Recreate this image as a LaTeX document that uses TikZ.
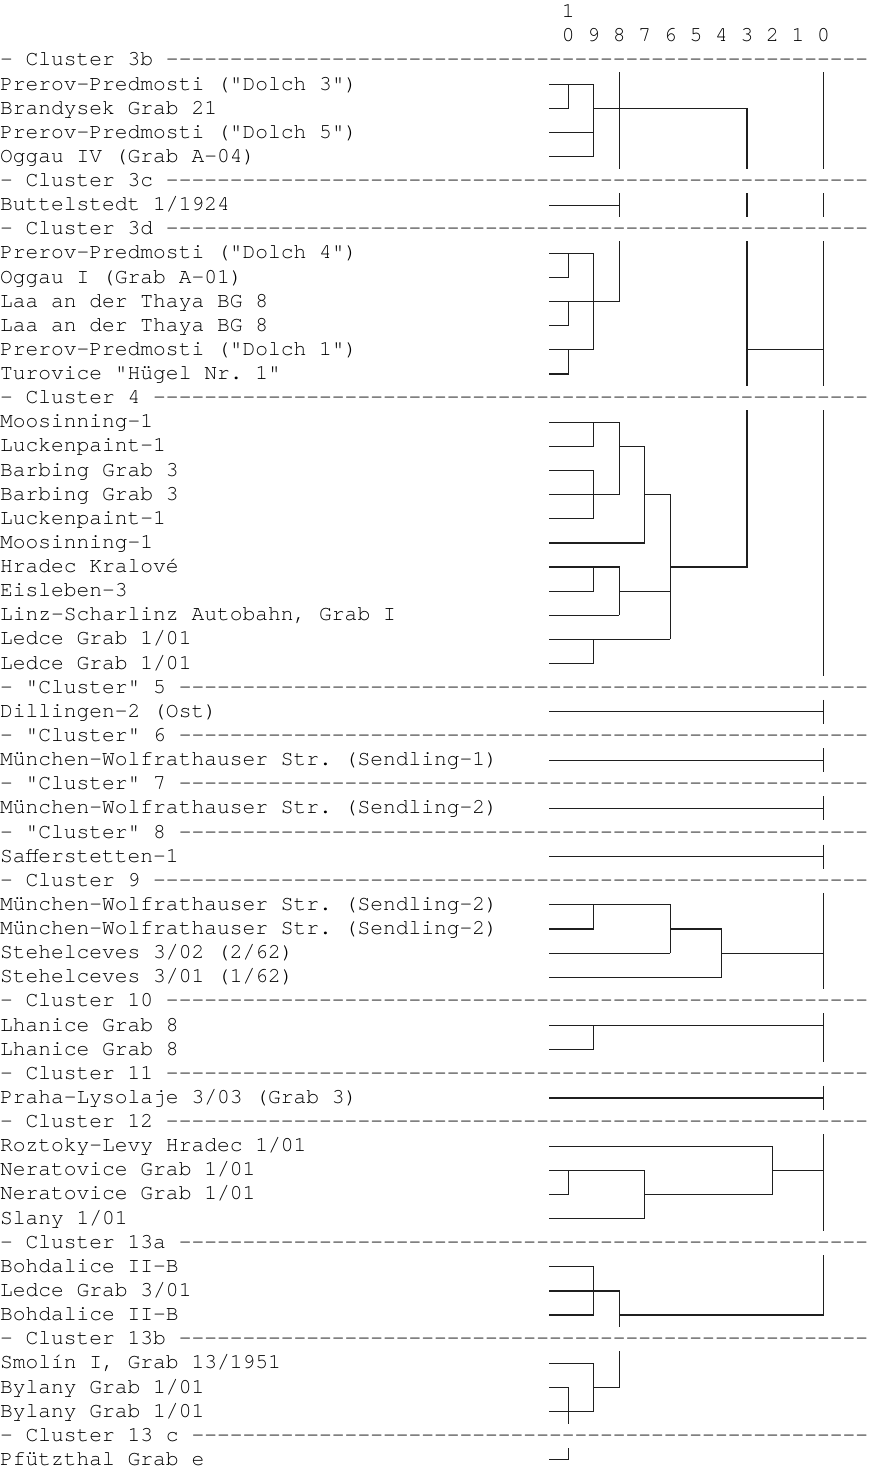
\documentclass[tikz,border=0pt]{standalone}
\usepackage{fontspec}
\setmonofont{TeX Gyre Cursor}
\newcommand\myhy[1]{\ifnum#1>0 -\kern0pt\expandafter\myhy\expandafter{\the\numexpr#1-1\relax}\fi}
\tikzset{
  lbl/.style={font=\ttfamily\fontsize{10.64pt}{12pt}\selectfont, anchor=base west, inner sep=0pt, outer sep=0pt, text=black},
  dl/.style={line width=0.6pt, draw=black!88, line join=miter}
}
\begin{document}
\frenchspacing
\begin{tikzpicture}[x=6.385pt, y=-12.065pt]
\useasboundingbox (0,0) rectangle (68.755,61.003);
% header
\node[lbl] (h1) at (44,0.73) {1};
\node[lbl] (h2) at (44,1.73) {0 9 8 7 6 5 4 3 2 1 0};
% labels
\node[lbl] (t3) at (0,2.73) {- Cluster 3b \myhy{55}};
\node[lbl] (t4) at (0,3.73) {Prerov-Predmosti ("Dolch 3")};
\node[lbl] (t5) at (0,4.73) {Brandysek Grab 21};
\node[lbl] (t6) at (0,5.73) {Prerov-Predmosti ("Dolch 5")};
\node[lbl] (t7) at (0,6.73) {Oggau IV (Grab A-04)};
\node[lbl] (t8) at (0,7.73) {- Cluster 3c \myhy{55}};
\node[lbl] (t9) at (0,8.73) {Buttelstedt 1/1924};
\node[lbl] (t10) at (0,9.73) {- Cluster 3d \myhy{55}};
\node[lbl] (t11) at (0,10.73) {Prerov-Predmosti ("Dolch 4")};
\node[lbl] (t12) at (0,11.73) {Oggau I (Grab A-01)};
\node[lbl] (t13) at (0,12.73) {Laa an der Thaya BG 8};
\node[lbl] (t14) at (0,13.73) {Laa an der Thaya BG 8};
\node[lbl] (t15) at (0,14.73) {Prerov-Predmosti ("Dolch 1")};
\node[lbl] (t16) at (0,15.73) {Turovice "Hügel Nr. 1"};
\node[lbl] (t17) at (0,16.73) {- Cluster 4 \myhy{56}};
\node[lbl] (t18) at (0,17.73) {Moosinning-1};
\node[lbl] (t19) at (0,18.73) {Luckenpaint-1};
\node[lbl] (t20) at (0,19.73) {Barbing Grab 3};
\node[lbl] (t21) at (0,20.73) {Barbing Grab 3};
\node[lbl] (t22) at (0,21.73) {Luckenpaint-1};
\node[lbl] (t23) at (0,22.73) {Moosinning-1};
\node[lbl] (t24) at (0,23.73) {Hradec Kralové};
\node[lbl] (t25) at (0,24.73) {Eisleben-3};
\node[lbl] (t26) at (0,25.73) {Linz-Scharlinz Autobahn, Grab I};
\node[lbl] (t27) at (0,26.73) {Ledce Grab 1/01};
\node[lbl] (t28) at (0,27.73) {Ledce Grab 1/01};
\node[lbl] (t29) at (0,28.73) {- "Cluster" 5 \myhy{54}};
\node[lbl] (t30) at (0,29.73) {Dillingen-2 (Ost)};
\node[lbl] (t31) at (0,30.73) {- "Cluster" 6 \myhy{54}};
\node[lbl] (t32) at (0,31.73) {München-Wolfrathauser Str. (Sendling-1)};
\node[lbl] (t33) at (0,32.73) {- "Cluster" 7 \myhy{54}};
\node[lbl] (t34) at (0,33.73) {München-Wolfrathauser Str. (Sendling-2)};
\node[lbl] (t35) at (0,34.73) {- "Cluster" 8 \myhy{54}};
\node[lbl] (t36) at (0,35.73) {Safferstetten-1};
\node[lbl] (t37) at (0,36.73) {- Cluster 9 \myhy{56}};
\node[lbl] (t38) at (0,37.73) {München-Wolfrathauser Str. (Sendling-2)};
\node[lbl] (t39) at (0,38.73) {München-Wolfrathauser Str. (Sendling-2)};
\node[lbl] (t40) at (0,39.73) {Stehelceves 3/02 (2/62)};
\node[lbl] (t41) at (0,40.73) {Stehelceves 3/01 (1/62)};
\node[lbl] (t42) at (0,41.73) {- Cluster 10 \myhy{55}};
\node[lbl] (t43) at (0,42.73) {Lhanice Grab 8};
\node[lbl] (t44) at (0,43.73) {Lhanice Grab 8};
\node[lbl] (t45) at (0,44.73) {- Cluster 11 \myhy{55}};
\node[lbl] (t46) at (0,45.73) {Praha-Lysolaje 3/03 (Grab 3)};
\node[lbl] (t47) at (0,46.73) {- Cluster 12 \myhy{55}};
\node[lbl] (t48) at (0,47.73) {Roztoky-Levy Hradec 1/01};
\node[lbl] (t49) at (0,48.73) {Neratovice Grab 1/01};
\node[lbl] (t50) at (0,49.73) {Neratovice Grab 1/01};
\node[lbl] (t51) at (0,50.73) {Slany 1/01};
\node[lbl] (t52) at (0,51.73) {- Cluster 13a \myhy{54}};
\node[lbl] (t53) at (0,52.73) {Bohdalice II-B};
\node[lbl] (t54) at (0,53.73) {Ledce Grab 3/01};
\node[lbl] (t55) at (0,54.73) {Bohdalice II-B};
\node[lbl] (t56) at (0,55.73) {- Cluster 13b \myhy{54}};
\node[lbl] (t57) at (0,56.73) {Smolín I, Grab 13/1951};
\node[lbl] (t58) at (0,57.73) {Bylany Grab 1/01};
\node[lbl] (t59) at (0,58.73) {Bylany Grab 1/01};
\node[lbl] (t60) at (0,59.73) {- Cluster 13 c \myhy{53}};
\node[lbl] (t61) at (0,60.73) {Pfützthal Grab e};
% ---------- dendrogram ----------
% Cluster 3b
\draw[dl] (43,3.5) -- (46.5,3.5) -- (46.5,6.5);
\draw[dl] (44.5,3.5) -- (44.5,4.5) -- (43,4.5);
\draw[dl] (46.5,4.5) -- (58.5,4.5) -- (58.5,7);
\draw[dl] (43,5.5) -- (46.5,5.5);
\draw[dl] (43,6.5) -- (46.5,6.5);
\draw[dl] (48.5,3) -- (48.5,7);
\draw[dl] (64.5,3) -- (64.5,7);
% Cluster 3c
\draw[dl] (43,8.5) -- (48.5,8.5);
\draw[dl] (48.5,8) -- (48.5,9);
\draw[dl] (58.5,8) -- (58.5,9);
\draw[dl] (64.5,8) -- (64.5,9);
% Cluster 3d
\draw[dl] (43,10.5) -- (46.5,10.5) -- (46.5,14.5);
\draw[dl] (44.5,10.5) -- (44.5,11.5) -- (43,11.5);
\draw[dl] (43,12.5) -- (48.5,12.5) -- (48.5,10);
\draw[dl] (44.5,12.5) -- (44.5,13.5) -- (43,13.5);
\draw[dl] (43,14.5) -- (46.5,14.5);
\draw[dl] (44.5,14.5) -- (44.5,15.5) -- (43,15.5);
\draw[dl] (58.5,10) -- (58.5,16);
\draw[dl] (64.5,10) -- (64.5,16);
\draw[dl] (58.5,14.5) -- (64.5,14.5);
% Cluster 4
\draw[dl] (43,17.5) -- (48.5,17.5) -- (48.5,20.5);
\draw[dl] (46.5,17.5) -- (46.5,18.5) -- (43,18.5);
\draw[dl] (48.5,18.5) -- (50.5,18.5) -- (50.5,22.5);
\draw[dl] (43,19.5) -- (46.5,19.5) -- (46.5,21.5);
\draw[dl] (43,20.5) -- (48.5,20.5);
\draw[dl] (50.5,20.5) -- (52.5,20.5) -- (52.5,26.5);
\draw[dl] (43,21.5) -- (46.5,21.5);
\draw[dl] (43,22.5) -- (50.5,22.5);
\draw[dl] (43,23.5) -- (48.5,23.5) -- (48.5,25.5);
\draw[dl] (46.5,23.5) -- (46.5,24.5) -- (43,24.5);
\draw[dl] (52.5,23.5) -- (58.5,23.5) -- (58.5,17);
\draw[dl] (48.5,24.5) -- (52.5,24.5);
\draw[dl] (43,25.5) -- (48.5,25.5);
\draw[dl] (43,26.5) -- (52.5,26.5);
\draw[dl] (46.5,26.5) -- (46.5,27.5) -- (43,27.5);
\draw[dl] (64.5,17) -- (64.5,28);
% Clusters 5-8
\foreach \r in {30,32,34,36}{
  \draw[dl] (43,\r-0.5) -- (64.5,\r-0.5);
  \draw[dl] (64.5,\r-1) -- (64.5,\r);
}
% Cluster 9
\draw[dl] (43,37.5) -- (52.5,37.5) -- (52.5,39.5);
\draw[dl] (46.5,37.5) -- (46.5,38.5) -- (43,38.5);
\draw[dl] (52.5,38.5) -- (56.5,38.5) -- (56.5,40.5);
\draw[dl] (43,39.5) -- (52.5,39.5);
\draw[dl] (56.5,39.5) -- (64.5,39.5);
\draw[dl] (43,40.5) -- (56.5,40.5);
\draw[dl] (64.5,37) -- (64.5,41);
% Cluster 10
\draw[dl] (43,42.5) -- (64.5,42.5);
\draw[dl] (46.5,42.5) -- (46.5,43.5) -- (43,43.5);
\draw[dl] (64.5,42) -- (64.5,44);
% Cluster 11
\draw[dl] (43,45.5) -- (64.5,45.5);
\draw[dl] (64.5,45) -- (64.5,46);
% Cluster 12
\draw[dl] (43,47.5) -- (60.5,47.5) -- (60.5,49.5);
\draw[dl] (43,48.5) -- (50.5,48.5) -- (50.5,50.5);
\draw[dl] (44.5,48.5) -- (44.5,49.5) -- (43,49.5);
\draw[dl] (60.5,48.5) -- (64.5,48.5);
\draw[dl] (50.5,49.5) -- (60.5,49.5);
\draw[dl] (43,50.5) -- (50.5,50.5);
\draw[dl] (64.5,47) -- (64.5,51);
% Cluster 13a
\draw[dl] (43,52.5) -- (46.5,52.5) -- (46.5,54.5) -- (43,54.5);
\draw[dl] (43,53.5) -- (48.5,53.5) -- (48.5,55);
\draw[dl] (48.5,54.5) -- (64.5,54.5) -- (64.5,52);
% Cluster 13b
\draw[dl] (43,56.5) -- (46.5,56.5) -- (46.5,58.5) -- (43,58.5);
\draw[dl] (48.5,56) -- (48.5,57.5) -- (46.5,57.5);
\draw[dl] (43,57.5) -- (44.5,57.5) -- (44.5,59);
% Cluster 13 c
\draw[dl] (43,60.5) -- (44.5,60.5) -- (44.5,60);
\end{tikzpicture}
\end{document}
